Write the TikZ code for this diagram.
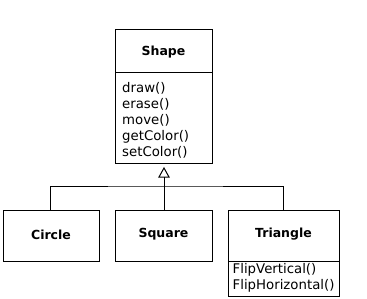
\documentclass[tikz,border=0pt]{standalone}
\usepackage{fontspec}
\setmainfont{DejaVu Sans}
\begin{document}
\begin{tikzpicture}[x=1pt,y=-1pt,
  cls/.style={draw, line width=1pt, rectangle, inner sep=0pt},
  ttl/.style={font=\fontsize{12.5}{12.5}\selectfont\bfseries},
  mth/.style={font=\fontsize{13.3}{13.3}\selectfont, anchor=base west, inner sep=0pt},
  ln/.style={line width=1pt}]
\useasboundingbox (0,0) rectangle (367,298);
% Shape class
\node[cls, minimum width=97pt, minimum height=134pt] (shape) at (163.5,96) {};
\coordinate (shdivL) at (115,72);
\coordinate (shdivR) at (212,72);
\draw[ln] (shdivL) -- (shdivR);
\node[ttl] (shapet) at (163.5,52) {Shape};
\node[mth] (m1) at (122,92.5) {draw()};
\node[mth] (m2) at (122,108.5) {erase()};
\node[mth] (m3) at (122,124.5) {move()};
\node[mth] (m4) at (122,140.5) {getColor()};
\node[mth] (m5) at (122,156.5) {setColor()};
% subclasses
\node[cls, minimum width=96pt, minimum height=51pt] (circle) at (51,235.5) {};
\node[ttl] (circlet) at (51,234.5) {Circle};
\node[cls, minimum width=97pt, minimum height=51pt] (square) at (163.5,235.5) {};
\node[ttl] (squaret) at (163.5,234.5) {Square};
\node[cls, minimum width=111pt, minimum height=86pt] (tri) at (283.5,253) {};
\coordinate (trdivL) at (228,261);
\coordinate (trdivR) at (339,261);
\draw[ln] (trdivL) -- (trdivR);
\node[ttl] (trit) at (283.5,234.5) {Triangle};
\node[mth] (f1) at (232.5,273) {FlipVertical()};
\node[mth] (f2) at (232.5,289) {FlipHorizontal()};
% generalization arrow
\coordinate (apex) at (164,168);
\coordinate (tbL) at (159,177);
\coordinate (tbR) at (169,177);
\coordinate (tbM) at (164,177);
\coordinate (jn) at (164,186);
\draw[ln, line join=miter] (apex) -- (tbL) -- (tbR) -- cycle;
\draw[ln] (tbM) -- (square.north -| tbM);
\draw[ln] (circle.north -| 50,0) |- (jn) -| (tri.north);
\end{tikzpicture}
\end{document}
